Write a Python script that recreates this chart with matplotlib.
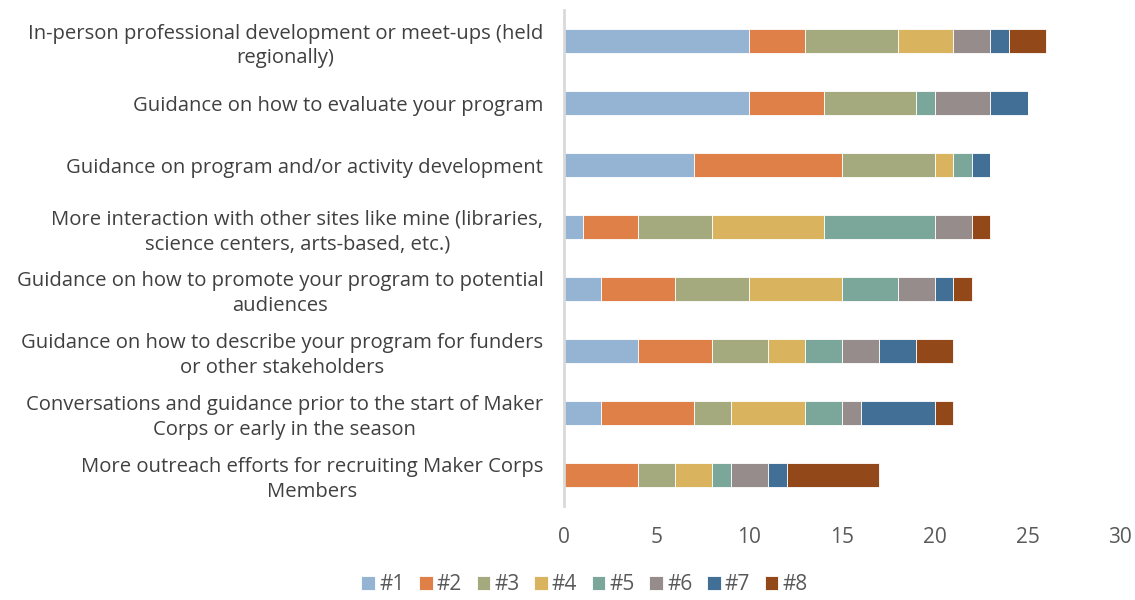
import matplotlib
matplotlib.use("Agg")
import matplotlib.pyplot as plt
import numpy as np

plt.rcParams['font.family'] = ['Open Sans', 'DejaVu Sans']

categories = [
    "In-person professional development or meet-ups (held\nregionally)",
    "Guidance on how to evaluate your program",
    "Guidance on program and/or activity development",
    "More interaction with other sites like mine (libraries,\nscience centers, arts-based, etc.)",
    "Guidance on how to promote your program to potential\naudiences",
    "Guidance on how to describe your program for funders\nor other stakeholders",
    "Conversations and guidance prior to the start of Maker\nCorps or early in the season",
    "More outreach efforts for recruiting Maker Corps\nMembers",
]

series_names = ["#1", "#2", "#3", "#4", "#5", "#6", "#7", "#8"]

rank1 = [10, 10, 7, 1, 2, 4, 2, 0]
rank2 = [3, 4, 8, 3, 4, 4, 5, 4]
rank3 = [5, 5, 5, 4, 4, 3, 2, 2]
rank4 = [3, 0, 1, 6, 5, 2, 4, 2]
rank5 = [0, 1, 1, 6, 3, 2, 2, 1]
rank6 = [2, 3, 0, 2, 2, 2, 1, 2]
rank7 = [1, 2, 1, 0, 1, 2, 4, 1]
rank8 = [2, 0, 0, 1, 1, 2, 1, 5]

series = [rank1, rank2, rank3, rank4, rank5, rank6, rank7, rank8]
colors = ["#95B3D3", "#DF8048", "#A4AA7E", "#D9B35E",
          "#7BA79B", "#968C8B", "#416F96", "#924819"]

fig = plt.figure(figsize=(11.35, 6.0), dpi=100)
ax = fig.add_axes([0.497, 0.157, 0.49, 0.826])

y = np.arange(len(categories))
left = np.zeros(len(categories))
for name, vals, col in zip(series_names, series, colors):
    vals = np.array(vals, dtype=float)
    ax.barh(y, vals, left=left, height=0.39, color=col, label=name,
            edgecolor="white", linewidth=0.6)
    left += vals

ax.set_ylim(len(categories) - 0.5, -0.5)
ax.set_xlim(0, 30)
ax.set_xticks([0, 5, 10, 15, 20, 25, 30])
ax.set_yticks(y)
ax.set_yticklabels(categories, fontsize=14.6, color="#404040",
                   multialignment="center", linespacing=1.3)
ax.tick_params(axis="y", length=0, pad=15)
ax.tick_params(axis="x", length=0, pad=15, labelsize=15, labelcolor="#595959")

for s in ["top", "right", "bottom"]:
    ax.spines[s].set_visible(False)
ax.spines["left"].set_color("#D9D9D9")
ax.spines["left"].set_linewidth(2)

fig.legend(loc="lower center", bbox_to_anchor=(0.515, 0.008), ncol=8,
           frameon=False, fontsize=15, handlelength=0.65, handleheight=0.65,
           handletextpad=0.2, columnspacing=0.7, labelcolor="#595959",
           borderpad=0.0, borderaxespad=0.0)

fig.savefig("out.png", dpi=100)
